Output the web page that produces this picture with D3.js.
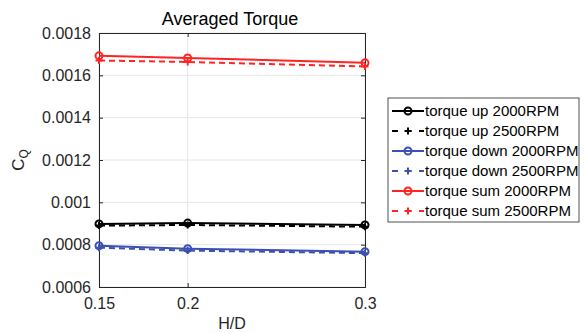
<!DOCTYPE html>
<html>
<head>
<meta charset="utf-8">
<script src="https://cdn.jsdelivr.net/npm/d3@7"></script>
<style>
  body { margin: 0; background: #fff; }
  svg { font-family: 'Liberation Sans', Arial, sans-serif; }
</style>
</head>
<body>
<svg id="chart" width="587" height="333"></svg>
<script>
// H/D positions
const hd = [0.15, 0.2, 0.3];
const yTicks = [0.0006, 0.0008, 0.001, 0.0012, 0.0014, 0.0016, 0.0018];

// averaged torque coefficient
const upRpm2000 = [0.000898, 0.000902, 0.000893];
const upRpm2500 = [0.000890, 0.000893, 0.000885];
const downRpm2000 = [0.000795, 0.000781, 0.000767];
const downRpm2500 = [0.000786, 0.000772, 0.000760];
const sumRpm2000 = [0.001692, 0.001682, 0.001659];
const sumRpm2500 = [0.001670, 0.001663, 0.001642];

const seriesNames = [
  'torque up 2000RPM', 'torque up 2500RPM',
  'torque down 2000RPM', 'torque down 2500RPM',
  'torque sum 2000RPM', 'torque sum 2500RPM'
];

const conf = {
  left: 99, right: 365, top: 33, bottom: 287,
  black: '#000000', blue: '#3c50b4', red: '#ff2424'
};

const series = [
  { name: seriesNames[0], values: upRpm2000, color: conf.black, dashed: false },
  { name: seriesNames[1], values: upRpm2500, color: conf.black, dashed: true },
  { name: seriesNames[2], values: downRpm2000, color: conf.blue, dashed: false },
  { name: seriesNames[3], values: downRpm2500, color: conf.blue, dashed: true },
  { name: seriesNames[4], values: sumRpm2000, color: conf.red, dashed: false },
  { name: seriesNames[5], values: sumRpm2500, color: conf.red, dashed: true }
];

const svg = d3.select('#chart');

const x = d3.scaleLinear().domain([0.15, 0.3]).range([conf.left, conf.right]);
const y = d3.scaleLinear().domain([0.0006, 0.0018]).range([conf.bottom, conf.top]);

// grid
const grid = svg.append('g').attr('class', 'grid');
grid.selectAll('line.h')
  .data(yTicks)
  .join('line')
  .attr('x1', conf.left).attr('x2', conf.right)
  .attr('y1', d => y(d)).attr('y2', d => y(d))
  .attr('stroke', '#e6e6e6');
grid.selectAll('line.v')
  .data(hd)
  .join('line')
  .attr('y1', conf.top).attr('y2', conf.bottom)
  .attr('x1', d => x(d)).attr('x2', d => x(d))
  .attr('stroke', '#e6e6e6');

// axes, ticks inside like matlab
const fmtY = d => String(+d.toPrecision(2));
const axisL = svg.append('g')
  .attr('transform', `translate(${conf.left},0)`)
  .call(d3.axisLeft(y).tickValues(yTicks).tickSize(-4).tickPadding(8).tickFormat(fmtY));
const axisR = svg.append('g')
  .attr('transform', `translate(${conf.right},0)`)
  .call(d3.axisRight(y).tickValues(yTicks).tickSize(-4).tickFormat(''));
const axisB = svg.append('g')
  .attr('transform', `translate(0,${conf.bottom})`)
  .call(d3.axisBottom(x).tickValues(hd).tickSize(-4).tickPadding(8).tickFormat(d => String(d)));
const axisT = svg.append('g')
  .attr('transform', `translate(0,${conf.top})`)
  .call(d3.axisTop(x).tickValues(hd).tickSize(-4).tickFormat(''));

[axisL, axisR, axisB, axisT].forEach(a => {
  a.select('.domain').attr('stroke', '#262626');
  a.selectAll('.tick line').attr('stroke', '#262626');
  a.selectAll('text').attr('font-size', 16).attr('fill', '#262626')
    .attr('font-family', "'Liberation Sans', Arial, sans-serif");
});
axisB.selectAll('text').attr('dy', '0.85em');

// lines
const line = d3.line().x((d, i) => x(hd[i])).y(d => y(d));

const drawMarker = function(g, cx, cy, s, dashed) {
  if (dashed) {
    g.append('path')
      .attr('d', `M${cx - 3.5},${cy}H${cx + 3.5}M${cx},${cy - 3.5}V${cy + 3.5}`)
      .attr('stroke', s.color).attr('stroke-width', 2);
  } else {
    g.append('circle')
      .attr('cx', cx).attr('cy', cy).attr('r', 3.5)
      .attr('fill', 'none').attr('stroke', s.color).attr('stroke-width', 2);
  }
};

const plot = svg.append('g').attr('class', 'plot');
series.forEach(s => {
  const g = plot.append('g');
  g.append('path')
    .attr('d', line(s.values))
    .attr('fill', 'none')
    .attr('stroke', s.color)
    .attr('stroke-width', 2)
    .attr('stroke-dasharray', s.dashed ? '6,4' : null);
  s.values.forEach((v, i) => drawMarker(g, x(hd[i]), y(v), s, s.dashed));
});

// title and labels
svg.append('text')
  .attr('x', 230).attr('y', 25)
  .attr('text-anchor', 'middle').attr('font-size', 18).attr('fill', '#000')
  .text('Averaged Torque');
svg.append('text')
  .attr('x', 232).attr('y', 329)
  .attr('text-anchor', 'middle').attr('font-size', 16).attr('fill', '#262626')
  .text('H/D');
const yl = svg.append('text')
  .attr('transform', 'translate(24,160) rotate(-90)')
  .attr('text-anchor', 'middle').attr('font-size', 17).attr('fill', '#262626');
yl.append('tspan').text('C');
yl.append('tspan').attr('font-size', 12).attr('dy', 4).text('Q');

// legend
const legend = svg.append('g').attr('transform', 'translate(388,98)');
legend.append('rect')
  .attr('width', 191).attr('height', 124)
  .attr('fill', '#fff').attr('stroke', '#262626').attr('stroke-width', 0.8);
series.forEach((s, i) => {
  const ly = 13 + i * 20;
  const row = legend.append('g');
  row.append('line')
    .attr('x1', 4).attr('x2', 36).attr('y1', ly).attr('y2', ly)
    .attr('stroke', s.color).attr('stroke-width', 2)
    .attr('stroke-dasharray', s.dashed ? '6,7.5' : null);
  drawMarker(row, 20, ly, s, s.dashed);
  row.append('text')
    .attr('x', 37).attr('y', ly).attr('dy', '0.35em')
    .attr('font-size', 15).attr('fill', '#000')
    .text(s.name);
});
</script>
</body>
</html>
